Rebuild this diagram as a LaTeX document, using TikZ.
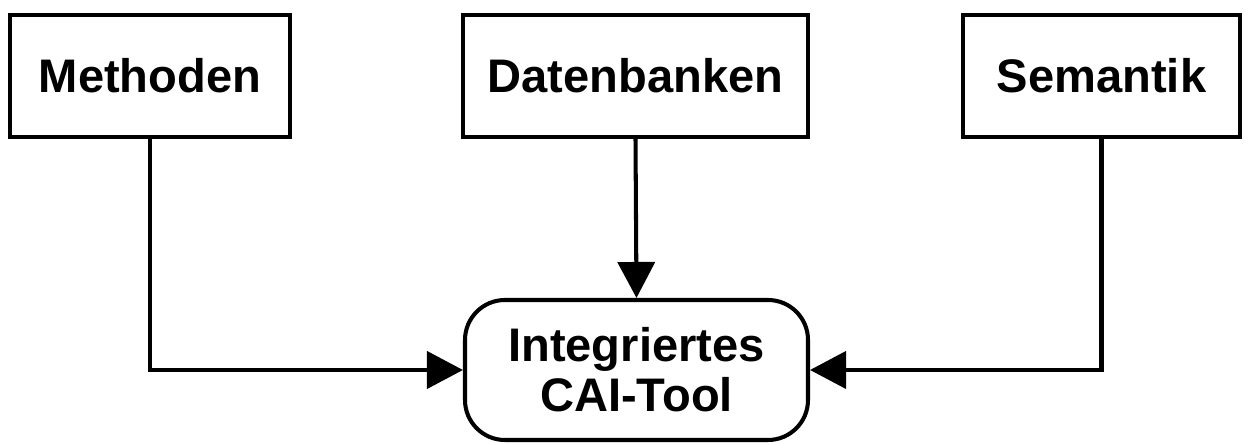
\documentclass[tikz,border=0pt]{standalone}
\usepackage{fontspec}
\setmainfont{Liberation Sans}
\usepackage{tikz}
\usetikzlibrary{positioning, arrows.meta}

\begin{document}
\begin{tikzpicture}[
    every node/.style={align=center, font=\fontsize{26.8}{28.5}\selectfont\bfseries},
    src/.style={draw, line width=2.3pt, minimum height=2.44cm},
    tool/.style={draw, line width=2.3pt, rounded corners=0.8cm, minimum width=6.86cm, minimum height=2.8cm},
    arrow/.style={-{Triangle[length=0.72cm, width=0.74cm]}, line width=2.3pt}
]
    \useasboundingbox (0,0) rectangle (25,8.9);

    % Sources
    \node[src, minimum width=5.6cm] (meth) at (3.0,7.38) {Methoden};
    \node[src, minimum width=6.9cm] (daten) at (12.71,7.38) {Datenbanken};
    \node[src, minimum width=5.54cm] (sem) at (22.03,7.38) {Semantik};

    % Target
    \node[tool] (cai) at (12.73,1.5) {Integriertes\\CAI-Tool};

    % Connections
    \draw[arrow] (meth.south) |- (cai.west);
    \draw[arrow] (daten.south) -- (cai.north);
    \draw[arrow] (sem.south) |- (cai.east);
\end{tikzpicture}
\end{document}
